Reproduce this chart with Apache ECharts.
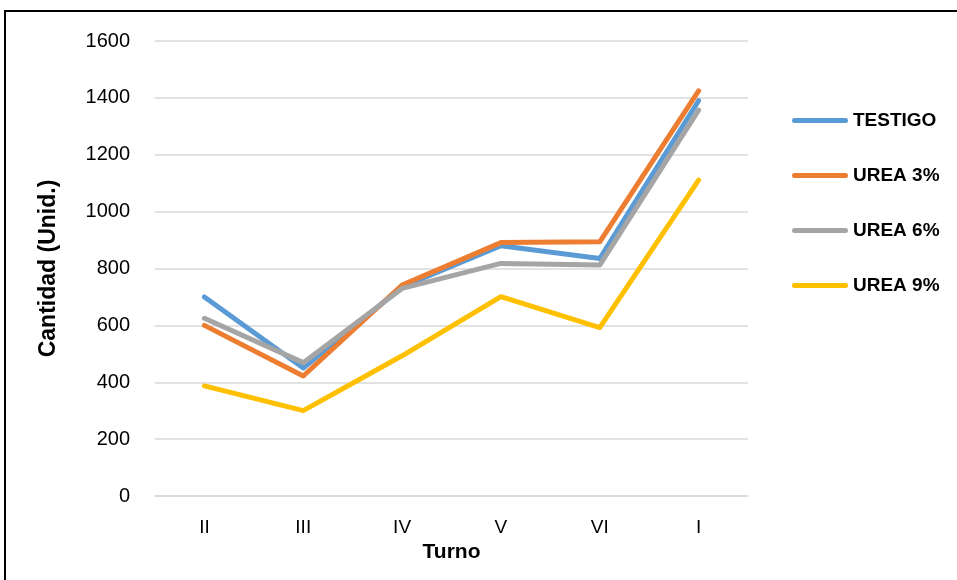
<!DOCTYPE html>
<html>
<head>
<meta charset="utf-8">
<script src="https://cdn.jsdelivr.net/npm/echarts@6/dist/echarts.min.js"></script>
<style>
html,body{margin:0;padding:0;background:#fff;}
#c{width:957px;height:580px;}
</style>
</head>
<body>
<div id="c"></div>
<script>
var categories = ['II', 'III', 'IV', 'V', 'VI', 'I'];
var seriesNames = ['TESTIGO', 'UREA 3%', 'UREA 6%', 'UREA 9%'];
var testigo = [700, 450, 735, 880, 835, 1390];
var urea3 = [600, 422, 742, 891, 894, 1425];
var urea6 = [625, 469, 730, 818, 812, 1357];
var urea9 = [387, 300, 493, 701, 592, 1111];
var colors = ['#5B9BD5', '#ED7D31', '#A5A5A5', '#FFC000'];

var FONT = 'Liberation Sans';
var chart = echarts.init(document.getElementById('c'), null, {renderer: 'canvas'});
var values = [testigo, urea3, urea6, urea9];
var series = values.map(function (d, i) {
  return {
    name: seriesNames[i],
    type: 'line',
    data: d,
    symbol: 'none',
    animation: false,
    lineStyle: {width: 5, color: colors[i], cap: 'round', join: 'round'},
    itemStyle: {color: colors[i]}
  };
});

chart.setOption({
  animation: false,
  color: colors,
  graphic: [{
    type: 'rect',
    shape: {x: 5, y: 11, width: 1200, height: 1200},
    style: {fill: 'none', stroke: '#000', lineWidth: 2},
    silent: true,
    z: 0
  }],
  grid: {left: 155, top: 41, width: 593, height: 455, containLabel: false},
  legend: {
    orient: 'vertical',
    left: 787,
    top: 106,
    itemWidth: 56,
    itemHeight: 5,
    itemGap: 36,
    icon: 'path://M2.5,0 L53.5,0 A2.5,2.5 0 0 1 53.5,5 L2.5,5 A2.5,2.5 0 0 1 2.5,0 Z',
    textStyle: {fontFamily: FONT, fontSize: 19, fontWeight: 'bold', color: '#000'},
    data: seriesNames
  },
  xAxis: {
    type: 'category',
    data: categories,
    boundaryGap: true,
    axisLine: {show: true, lineStyle: {color: '#d9d9d9', width: 1.5}},
    axisTick: {show: false},
    axisLabel: {margin: 22, fontFamily: FONT, fontSize: 19, color: '#000'},
    name: 'Turno',
    nameLocation: 'middle',
    nameGap: 44,
    nameTextStyle: {fontFamily: FONT, fontSize: 21, fontWeight: 'bold', color: '#000'}
  },
  yAxis: {
    type: 'value',
    min: 0,
    max: 1600,
    interval: 200,
    axisLine: {show: false},
    axisTick: {show: false},
    splitLine: {lineStyle: {color: '#d9d9d9', width: 1.5}},
    axisLabel: {margin: 25, fontFamily: FONT, fontSize: 20, color: '#000',
      formatter: function (v) { return String(v); }},
    name: 'Cantidad (Unid.)',
    nameLocation: 'middle',
    nameGap: 95,
    nameTextStyle: {fontFamily: FONT, fontSize: 23, fontWeight: 'bold', color: '#000'}
  },
  series: series
});
</script>
</body>
</html>
